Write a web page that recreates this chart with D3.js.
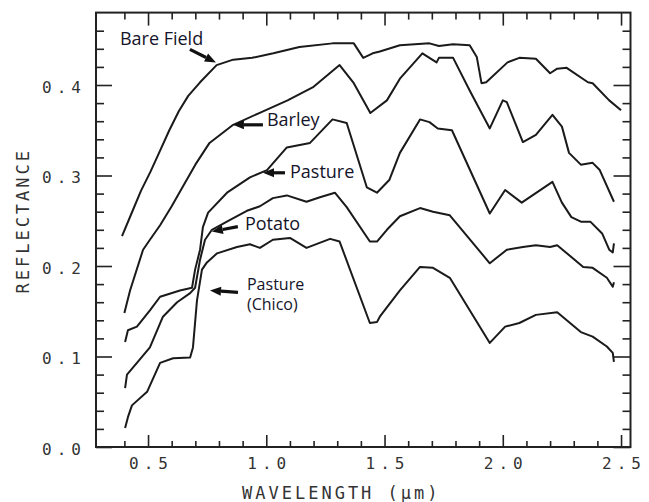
<!DOCTYPE html>
<html>
<head>
<meta charset="utf-8">
<script src="https://cdn.jsdelivr.net/npm/d3@7"></script>
<style>
  body { margin: 0; background: #fff; }
  svg { display: block; }
</style>
</head>
<body>
<div id="chart"></div>
<script>
// spectra: wavelength (um) and reflectance
let bareWl = [0.39,0.43,0.47,0.51,0.55,0.59,0.63,0.67,0.72,0.79,0.86,0.94,1.03,1.14,1.28,1.37,1.41,1.45,1.48,1.565,1.69,1.73,1.79,1.86,1.89,1.91,1.93,2.02,2.07,2.14,2.20,2.23,2.27,2.36,2.38,2.45,2.50];
let bareR  = [0.233,0.258,0.283,0.304,0.327,0.350,0.371,0.388,0.403,0.422,0.428,0.430,0.435,0.442,0.446,0.446,0.430,0.435,0.437,0.444,0.446,0.443,0.445,0.444,0.431,0.402,0.403,0.425,0.430,0.429,0.413,0.418,0.419,0.403,0.402,0.383,0.372];

let barleyWl = [0.40,0.424,0.479,0.508,0.551,0.60,0.648,0.70,0.76,0.86,0.97,1.09,1.20,1.31,1.37,1.44,1.51,1.565,1.66,1.72,1.73,1.79,1.86,1.945,2.00,2.017,2.085,2.14,2.21,2.25,2.28,2.33,2.38,2.41,2.47];
let barleyR  = [0.148,0.173,0.218,0.229,0.245,0.266,0.288,0.312,0.336,0.356,0.369,0.383,0.398,0.422,0.402,0.369,0.383,0.407,0.435,0.425,0.430,0.430,0.394,0.352,0.383,0.381,0.337,0.345,0.367,0.354,0.325,0.312,0.314,0.306,0.271];

let pastureWl = [0.403,0.415,0.453,0.508,0.551,0.635,0.686,0.699,0.72,0.732,0.754,0.834,0.931,1.003,1.087,1.185,1.28,1.34,1.425,1.468,1.52,1.565,1.65,1.69,1.725,1.785,1.945,2.01,2.08,2.21,2.25,2.29,2.33,2.37,2.42,2.45,2.465,2.47];
let pastureR  = [0.116,0.129,0.133,0.151,0.166,0.173,0.176,0.196,0.218,0.243,0.259,0.281,0.298,0.306,0.331,0.336,0.362,0.358,0.287,0.281,0.295,0.325,0.362,0.359,0.352,0.350,0.258,0.284,0.270,0.293,0.270,0.254,0.249,0.249,0.236,0.218,0.215,0.225];

let potatoWl = [0.403,0.411,0.453,0.508,0.563,0.623,0.678,0.699,0.72,0.741,0.77,0.847,0.918,0.973,1.028,1.087,1.17,1.227,1.29,1.34,1.438,1.468,1.51,1.565,1.65,1.705,1.776,1.945,2.017,2.085,2.14,2.20,2.23,2.34,2.38,2.44,2.465,2.47];
let potatoR  = [0.065,0.080,0.093,0.110,0.144,0.160,0.170,0.176,0.207,0.229,0.240,0.251,0.261,0.266,0.275,0.278,0.271,0.276,0.281,0.265,0.227,0.227,0.240,0.255,0.264,0.260,0.256,0.203,0.218,0.221,0.223,0.221,0.223,0.199,0.198,0.187,0.177,0.182];

let chicoWl = [0.403,0.415,0.432,0.496,0.551,0.606,0.678,0.69,0.707,0.728,0.749,0.792,0.876,0.931,0.973,1.028,1.10,1.17,1.27,1.31,1.438,1.468,1.48,1.565,1.65,1.705,1.776,1.945,2.01,2.07,2.14,2.23,2.33,2.38,2.44,2.465,2.47];
let chicoR  = [0.021,0.033,0.046,0.061,0.093,0.098,0.099,0.110,0.162,0.196,0.204,0.214,0.221,0.224,0.220,0.229,0.231,0.220,0.230,0.227,0.137,0.138,0.144,0.173,0.199,0.198,0.187,0.115,0.133,0.137,0.146,0.149,0.127,0.122,0.111,0.104,0.094];

let seriesNames = ['Bare Field', 'Barley', 'Pasture', 'Potato', 'Pasture (Chico)'];
let xMajor = [0.5, 1.0, 1.5, 2.0, 2.5];
let yMajor = [0.0, 0.1, 0.2, 0.3, 0.4];

let series = [
  { name: seriesNames[0], wl: bareWl, r: bareR },
  { name: seriesNames[1], wl: barleyWl, r: barleyR },
  { name: seriesNames[2], wl: pastureWl, r: pastureR },
  { name: seriesNames[3], wl: potatoWl, r: potatoR },
  { name: seriesNames[4], wl: chicoWl, r: chicoR }
];

let width = 649;
let height = 502;
let margin = { top: 12.6, right: 18.5, bottom: 55, left: 96 };

let svg = d3.select('#chart')
  .append('svg')
  .attr('width', width)
  .attr('height', height);

let x = d3.scaleLinear().domain([0.28, 2.54]).range([margin.left, width - margin.right]);
let y = d3.scaleLinear().domain([0, 0.48]).range([height - margin.bottom, margin.top]);

let xMinor = d3.range(4, 26).map(d => d / 10).filter(d => !xMajor.some(m => Math.abs(m - d) < 1e-6));
let yMinor = d3.range(1, 24).map(d => d / 50).filter(d => !yMajor.some(m => Math.abs(m - d) < 1e-6));

let ink = '#222';
let monoFont = '"DejaVu Sans Mono", monospace';

function cleanAxis(g) {
  g.select('.domain').remove();
  g.selectAll('line').attr('stroke', ink).attr('stroke-width', 1.6);
}

// bottom axis
svg.append('g')
  .attr('transform', `translate(0,${y(0)})`)
  .call(d3.axisBottom(x).tickValues(xMinor).tickSize(-6).tickFormat(''))
  .call(cleanAxis);
let xAxisG = svg.append('g')
  .attr('transform', `translate(0,${y(0)})`)
  .call(d3.axisBottom(x).tickValues(xMajor).tickSize(-12).tickPadding(11).tickFormat(d3.format('.1f')))
  .call(cleanAxis);
xAxisG.selectAll('text')
  .attr('font-family', monoFont)
  .attr('font-size', 16)
  .attr('letter-spacing', 5)
  .attr('dx', 2.5)
  .attr('fill', '#333');

// top axis
svg.append('g')
  .attr('transform', `translate(0,${y(0.48)})`)
  .call(d3.axisTop(x).tickValues(xMinor).tickSize(-7).tickFormat(''))
  .call(cleanAxis);
svg.append('g')
  .attr('transform', `translate(0,${y(0.48)})`)
  .call(d3.axisTop(x).tickValues(xMajor).tickSize(-13).tickFormat(''))
  .call(cleanAxis);

// left axis
svg.append('g')
  .attr('transform', `translate(${x(0.28)},0)`)
  .call(d3.axisLeft(y).tickValues(yMinor).tickSize(-8).tickFormat(''))
  .call(cleanAxis);
let yAxisG = svg.append('g')
  .attr('transform', `translate(${x(0.28)},0)`)
  .call(d3.axisLeft(y).tickValues(yMajor).tickSize(-16).tickPadding(10).tickFormat(d3.format('.1f')))
  .call(cleanAxis);
yAxisG.selectAll('text')
  .attr('font-family', monoFont)
  .attr('font-size', 16)
  .attr('letter-spacing', 5)
  .attr('dy', '0.45em')
  .attr('fill', '#333');

// right axis
svg.append('g')
  .attr('transform', `translate(${x(2.54)},0)`)
  .call(d3.axisRight(y).tickValues(yMinor).tickSize(-8).tickFormat(''))
  .call(cleanAxis);
svg.append('g')
  .attr('transform', `translate(${x(2.54)},0)`)
  .call(d3.axisRight(y).tickValues(yMajor).tickSize(-17).tickFormat(''))
  .call(cleanAxis);

// frame
svg.append('rect')
  .attr('x', x(0.28))
  .attr('y', y(0.48))
  .attr('width', x(2.54) - x(0.28))
  .attr('height', y(0) - y(0.48))
  .attr('fill', 'none')
  .attr('stroke', ink)
  .attr('stroke-width', 2);

// axis titles
svg.append('text')
  .attr('transform', `translate(29,${y(0.25)}) rotate(-90)`)
  .attr('text-anchor', 'middle')
  .attr('font-family', monoFont)
  .attr('font-size', 17)
  .attr('letter-spacing', 3)
  .attr('fill', '#333')
  .text('REFLECTANCE');

svg.append('text')
  .attr('x', 242)
  .attr('y', 499)
  .attr('font-family', monoFont)
  .attr('font-size', 17)
  .attr('letter-spacing', 3)
  .attr('fill', '#333')
  .text('WAVELENGTH (\u00b5m)');

// spectra
let line = d3.line()
  .x(d => x(d[0]))
  .y(d => y(d[1]));

svg.append('g')
  .selectAll('path')
  .data(series)
  .enter()
  .append('path')
  .attr('d', s => line(d3.zip(s.wl, s.r)))
  .attr('fill', 'none')
  .attr('stroke', '#1a1a1a')
  .attr('stroke-width', 2)
  .attr('stroke-linejoin', 'round');

// annotations: arrow tip in data units, tail and text offsets in px
let notes = [
  { lines: ['Bare Field'], wl: 0.787, r: 0.425, tx: -26, ty: -13, lx: -96, ly: -17 },
  { lines: ['Barley'], wl: 0.859, r: 0.356, tx: 30, ty: 0, lx: 34, ly: 1 },
  { lines: ['Pasture'], wl: 0.986, r: 0.303, tx: 22, ty: 0, lx: 27, ly: 5 },
  { lines: ['Potato'], wl: 0.770, r: 0.238, tx: 26, ty: -5, lx: 33, ly: -2 },
  { lines: ['Pasture', '(Chico)'], wl: 0.762, r: 0.173, tx: 28, ty: 2, lx: 37, ly: 0 }
];

function drawArrow(x0, y0, x1, y1) {
  let ang = Math.atan2(y1 - y0, x1 - x0);
  let len = 11, half = 4.5;
  let bx = x1 - len * Math.cos(ang), by = y1 - len * Math.sin(ang);
  svg.append('line')
    .attr('x1', x0).attr('y1', y0)
    .attr('x2', bx).attr('y2', by)
    .attr('stroke', '#111')
    .attr('stroke-width', 3.2);
  svg.append('path')
    .attr('d', `M${x1},${y1}L${bx - half * Math.sin(ang)},${by + half * Math.cos(ang)}L${bx + half * Math.sin(ang)},${by - half * Math.cos(ang)}Z`)
    .attr('fill', '#111');
}

notes.forEach(n => {
  let px = x(n.wl), py = y(n.r);
  drawArrow(px + n.tx, py + n.ty, px, py);
  n.lines.forEach((s, i) => {
    svg.append('text')
      .attr('x', px + n.lx)
      .attr('y', py + n.ly + i * 20)
      .attr('font-family', '"Open Sans", sans-serif')
      .attr('font-size', n.lines.length > 1 ? 16 : 18)
      .attr('fill', '#14142a')
      .text(s);
  });
});
</script>
</body>
</html>
